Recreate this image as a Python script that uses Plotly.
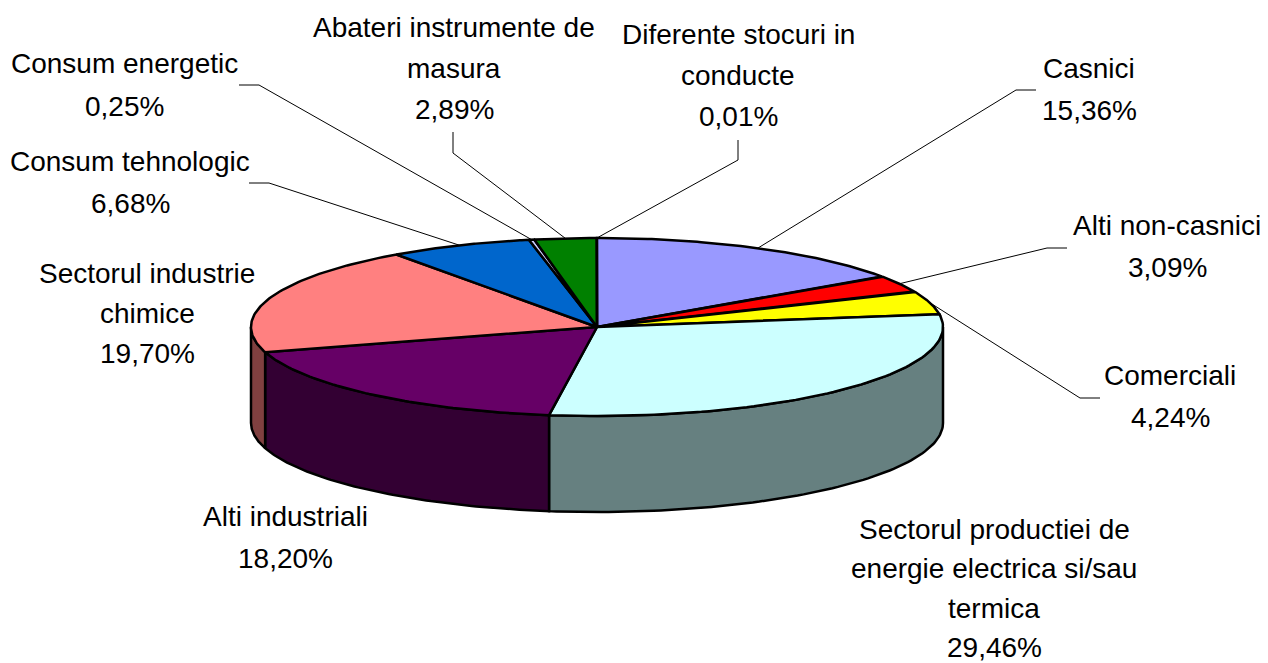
import numpy as np
import plotly.graph_objects as go

# slices, clockwise from 12 o'clock
names = ["Casnici", "Alti non-casnici", "Comerciali",
         "Sectorul productiei de energie electrica si/sau termica",
         "Alti industriali", "Sectorul industrie chimice", "Consum tehnologic",
         "Consum energetic", "Abateri instrumente de masura",
         "Diferente stocuri in conducte"]
shares = [15.36, 3.09, 4.24, 29.46, 18.20, 19.70, 6.68, 0.25, 2.89, 0.01]
top_colors = ["#9999FF", "#FF0000", "#FFFF00", "#CCFFFF", "#660066",
              "#FF8080", "#0066CC", "#CCCCFF", "#008000", "#CCFFCC"]
side_colors = ["#4D4D80", "#800000", "#808000", "#668080", "#330033",
               "#804040", "#003366", "#666680", "#004000", "#668066"]

# label text, split per line because the line spacing is wider than plotly's
label_lines = [["Casnici"], ["Alti non-casnici"], ["Comerciali"],
               ["Sectorul productiei de", "energie electrica si/sau", "termica"],
               ["Alti industriali"], ["Sectorul industrie", "chimice"],
               ["Consum tehnologic"], ["Consum energetic"],
               ["Abateri instrumente de", "masura"],
               ["Diferente stocuri in", "conducte"]]
label_x = [1089, 1167, 1170, 994, 285, 147, 130, 124, 454, 738]
label_top = [68, 225, 375, 529, 516, 273, 161, 63, 27, 34]
line_gap = [42, 42, 42, 39.5, 42, 40, 42, 43, 41, 41]

# elbow of each leader line: text end, then bend (None = no leader)
leader_start = [(1036, 90), (1067, 248), (1100, 398), None, None, None,
                (249, 183), (239, 85), (453, 132), (738, 140)]
leader_bend = [(1016, 90), (1047, 248), (1080, 398), None, None, None,
               (269, 183), (259, 85), (453, 153), (738, 160)]

# pie geometry in page pixels
cx, cy = 597, 327
rx, ry = 346, 89
depth = 96


def rim(t):
    return cx + rx * np.sin(t), cy - ry * np.cos(t)


fig = go.Figure()
fractions = np.array(shares) / sum(shares)
edges = np.concatenate([[0], np.cumsum(fractions)]) * 2 * np.pi

# sides first, only the part facing the viewer (right edge round to left edge)
for i in range(len(shares)):
    t0, t1 = max(edges[i], np.pi / 2), min(edges[i + 1], 3 * np.pi / 2)
    if t1 <= t0:
        continue
    t = np.linspace(t0, t1, 80)
    x, y = rim(t)
    fig.add_trace(go.Scatter(
        x=np.concatenate([x, x[::-1], x[:1]]),
        y=np.concatenate([y, y[::-1] + depth, y[:1]]),
        mode="lines", fill="toself", fillcolor=side_colors[i],
        line=dict(color="black", width=2.5), hoverinfo="skip"))

# top faces
for i in range(len(shares)):
    t = np.linspace(edges[i], edges[i + 1], 80)
    x, y = rim(t)
    fig.add_trace(go.Scatter(
        x=np.concatenate([[cx], x, [cx]]),
        y=np.concatenate([[cy], y, [cy]]),
        mode="lines", fill="toself", fillcolor=top_colors[i],
        line=dict(color="black", width=2.5), name=names[i], hoverinfo="name"))

# leader lines end on the rim at the middle of the slice
for i in range(len(shares)):
    if leader_start[i] is None:
        continue
    ex, ey = rim((edges[i] + edges[i + 1]) / 2)
    fig.add_trace(go.Scatter(
        x=[leader_start[i][0], leader_bend[i][0], ex],
        y=[leader_start[i][1], leader_bend[i][1], ey],
        mode="lines", line=dict(color="black", width=1), hoverinfo="skip"))

for i in range(len(shares)):
    pct = f"{shares[i]:.2f}".replace(".", ",") + "%"
    for j, text in enumerate(label_lines[i] + [pct]):
        fig.add_annotation(x=label_x[i], y=label_top[i] + j * line_gap[i], text=text,
                           showarrow=False, xanchor="center", yanchor="middle",
                           font=dict(family="Liberation Sans, Arial", size=28, color="black"))

fig.update_layout(
    width=1268, height=663, margin=dict(l=0, r=0, t=0, b=0),
    paper_bgcolor="white", plot_bgcolor="white", showlegend=False,
    xaxis=dict(range=[0, 1268], visible=False, fixedrange=True),
    yaxis=dict(range=[663, 0], visible=False, fixedrange=True),
)

fig.write_html("out.html", config={"displayModeBar": False},
               post_script="document.body.style.margin='0';document.body.style.overflow='hidden';")
